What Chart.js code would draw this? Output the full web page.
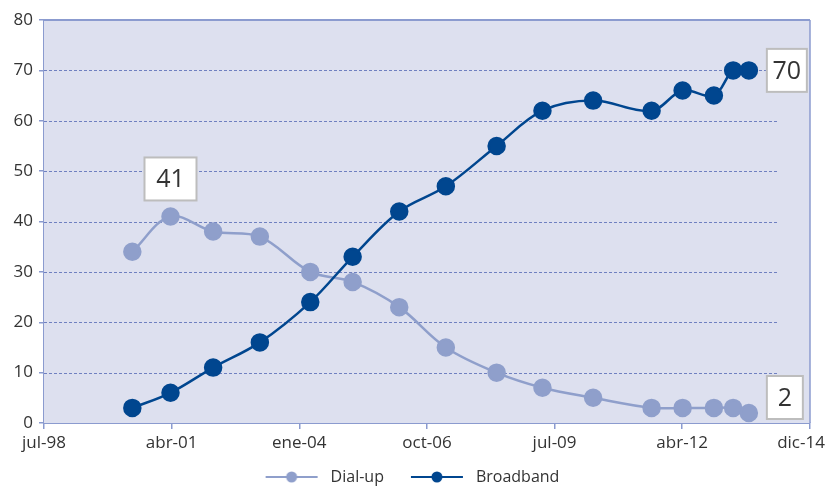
<!DOCTYPE html>
<html>
<head>
<meta charset="utf-8">
<script src="https://cdn.jsdelivr.net/npm/chart.js@4/dist/chart.umd.min.js"></script>
<style>
  html, body { margin: 0; padding: 0; background: #ffffff; }
  #wrap { width: 827px; height: 486px; position: relative; }
</style>
</head>
<body>
<div id="wrap"><canvas id="c" width="827" height="486"></canvas></div>
<script>
// ---- data ----
const surveyDates = ['2000-06-15','2001-04-10','2002-03-10','2003-03-11','2004-04-09','2005-03-07','2006-03-07','2007-03-07','2008-04-08','2009-04-02','2010-05-04','2011-08-05','2012-04-04','2012-12-05','2013-05-05','2013-09-05'];
const dialUp    = [34, 41, 38, 37, 30, 28, 23, 15, 10, 7, 5, 3, 3, 3, 3, 2];
const broadband = [3, 6, 11, 16, 24, 33, 42, 47, 55, 62, 64, 62, 66, 65, 70, 70];
const seriesNames = ['Dial-up', 'Broadband'];
const monthNames = ['ene','feb','mar','abr','may','jun','jul','ago','sep','oct','nov','dic'];
const xAxisStart = '1998-07-24';
const xAxisEnd = '2014-12-28';
const xTickStepDays = 1000;
const yMin = 0, yMax = 80, yStep = 10;

// ---- helpers ----
const EPOCH = Date.UTC(1899, 11, 30);
function toSerial(iso) {
  const p = iso.split('-').map(Number);
  return Math.round((Date.UTC(p[0], p[1] - 1, p[2]) - EPOCH) / 86400000);
}
function fmtSerial(s) {
  const d = new Date(EPOCH + s * 86400000);
  return monthNames[d.getUTCMonth()] + '-' + String(d.getUTCFullYear()).slice(2);
}
const xs = surveyDates.map(toSerial);
const toPoints = arr => arr.map((v, i) => ({ x: xs[i], y: v }));

const C_DIAL = '#8f9fcb';
const C_BB = '#00468f';
const C_AXIS = '#8b9bcf';
const C_GRID = '#6f80c0';
const C_BG = '#dde0ef';
const C_TEXT = '#333333';
const FONT = "'Open Sans', 'Noto Sans', sans-serif";

function legendSwatch(color) {
  const cv = document.createElement('canvas');
  cv.width = 72; cv.height = 16;
  const g = cv.getContext('2d');
  g.strokeStyle = color; g.lineWidth = 2;
  g.beginPath(); g.moveTo(15, 8); g.lineTo(67, 8); g.stroke();
  g.fillStyle = color;
  g.beginPath(); g.arc(41, 8, 5.5, 0, Math.PI * 2); g.fill();
  return cv;
}

// background + grid + frame
const framePlugin = {
  id: 'frame',
  beforeDatasetsDraw(chart) {
    const { ctx, chartArea: a, scales: { y } } = chart;
    ctx.save();
    ctx.fillStyle = C_BG;
    ctx.fillRect(a.left, a.top, a.right - a.left, a.bottom - a.top);
    ctx.strokeStyle = C_GRID; ctx.lineWidth = 1; ctx.setLineDash([3, 2]);
    y.ticks.forEach(t => {
      if (t.value <= yMin || t.value >= yMax) return;
      const py = Math.round(y.getPixelForValue(t.value)) + 0.5;
      ctx.beginPath(); ctx.moveTo(a.left, py); ctx.lineTo(a.right - 32, py); ctx.stroke();
    });
    ctx.setLineDash([]);
    ctx.strokeStyle = C_AXIS; ctx.lineWidth = 2;
    ctx.beginPath();
    ctx.moveTo(a.left, a.top); ctx.lineTo(a.right, a.top);
    ctx.stroke();
    ctx.lineWidth = 1.5;
    ctx.beginPath();
    ctx.moveTo(a.right, a.top); ctx.lineTo(a.right, a.bottom);
    ctx.stroke();
    ctx.restore();
  }
};

// value call-out boxes
const calloutPlugin = {
  id: 'callouts',
  afterDatasetsDraw(chart) {
    const { ctx, chartArea: a } = chart;
    const metaD = chart.getDatasetMeta(0), metaB = chart.getDatasetMeta(1);
    const iMax = dialUp.indexOf(Math.max(...dialUp));
    const last = dialUp.length - 1;
    const items = [
      { v: dialUp[iMax], el: metaD.data[iMax], mode: 'above', w: 52 },
      { v: broadband[last], el: metaB.data[last], mode: 'right', w: 40 },
      { v: dialUp[last], el: metaD.data[last], mode: 'rightBottom', w: 36 }
    ];
    ctx.save();
    ctx.font = '25px ' + FONT;
    ctx.textAlign = 'center'; ctx.textBaseline = 'middle';
    items.forEach(it => {
      const h = 43;
      let bx, by;
      if (it.mode === 'above') { bx = it.el.x - it.w / 2; by = it.el.y - 16 - h; }
      else if (it.mode === 'right') { bx = it.el.x + 18; by = it.el.y - h / 2; }
      else { bx = it.el.x + 18; by = a.bottom - 4 - h; }
      ctx.fillStyle = '#ffffff';
      ctx.fillRect(bx, by, it.w, h);
      ctx.strokeStyle = '#bdbdbd'; ctx.lineWidth = 2;
      ctx.strokeRect(bx, by, it.w, h);
      ctx.fillStyle = C_TEXT;
      ctx.fillText(String(it.v), bx + it.w / 2, by + h / 2 + 1);
    });
    ctx.restore();
  }
};

new Chart(document.getElementById('c'), {
  type: 'line',
  data: {
    datasets: [
      { label: seriesNames[0], data: toPoints(dialUp), borderColor: C_DIAL, backgroundColor: C_DIAL,
        pointBackgroundColor: C_DIAL, pointBorderColor: C_DIAL, pointRadius: 8, pointHoverRadius: 8,
        borderWidth: 2.5, tension: 0.35, order: 2, fill: false },
      { label: seriesNames[1], data: toPoints(broadband), borderColor: C_BB, backgroundColor: C_BB,
        pointBackgroundColor: C_BB, pointBorderColor: C_BB, pointRadius: 8, pointHoverRadius: 8,
        borderWidth: 2.5, tension: 0.35, order: 1, fill: false }
    ]
  },
  options: {
    responsive: false,
    animation: false,
    devicePixelRatio: 1,
    layout: { padding: { left: 0, right: 17, top: 20, bottom: 0 } },
    plugins: {
      tooltip: { enabled: false },
      legend: {
        position: 'bottom',
        maxHeight: 29,
        labels: {
          usePointStyle: true,
          pointStyleWidth: 72,
          padding: 12,
          color: C_TEXT,
          font: { family: FONT, size: 16 },
          generateLabels(chart) {
            return chart.data.datasets.map((ds, i) => ({
              text: ds.label,
              fillStyle: ds.borderColor,
              strokeStyle: ds.borderColor,
              fontColor: C_TEXT,
              lineWidth: 0,
              hidden: false,
              datasetIndex: i,
              pointStyle: legendSwatch(ds.borderColor)
            }));
          }
        }
      }
    },
    scales: {
      x: {
        type: 'linear',
        min: toSerial(xAxisStart),
        max: toSerial(xAxisEnd),
        afterBuildTicks(scale) {
          const t = [];
          for (let v = scale.min; v <= scale.max + 1; v += xTickStepDays) t.push({ value: v });
          scale.ticks = t;
        },
        afterFit(scale) { scale.height = 34; scale.paddingLeft = 0; scale.paddingRight = 0; },
        ticks: {
          // last label is nudged left (trailing spaces) so it stays inside the canvas
          callback: (v, i, ticks) => fmtSerial(v) + (i === ticks.length - 1 ? '    ' : ''),
          color: C_TEXT, font: { family: FONT, size: 17 }, padding: 4,
          maxRotation: 0, autoSkip: false
        },
        grid: { drawOnChartArea: false, drawTicks: true, tickLength: 6, color: C_AXIS, lineWidth: 1.5 },
        border: { color: C_AXIS, width: 2 }
      },
      y: {
        min: yMin, max: yMax,
        ticks: { stepSize: yStep, color: C_TEXT, font: { family: FONT, size: 17 }, padding: 6 },
        afterFit(scale) { scale.width = 44; },
        grid: { drawOnChartArea: false, drawTicks: true, tickLength: 5, color: C_AXIS, lineWidth: 1.5 },
        border: { color: C_AXIS, width: 2 }
      }
    }
  },
  plugins: [framePlugin, calloutPlugin]
});
</script>
</body>
</html>
